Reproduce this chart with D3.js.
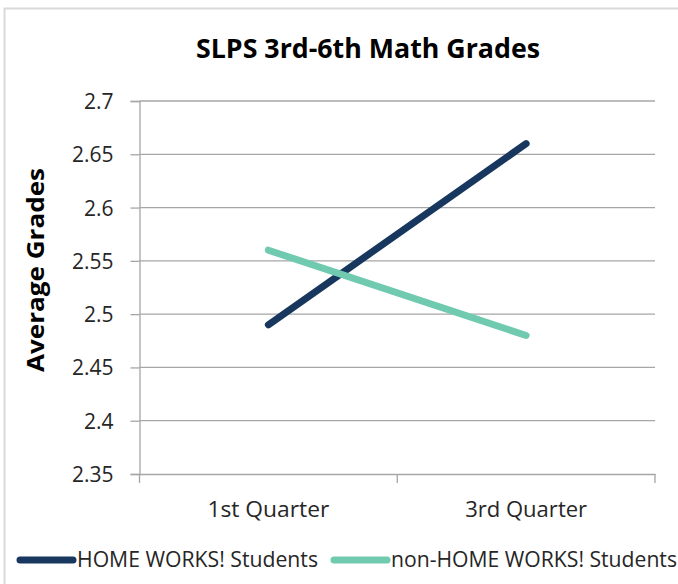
<!DOCTYPE html>
<html><head><meta charset="utf-8">
<script src="https://cdn.jsdelivr.net/npm/d3@7"></script>
<style>body{margin:0;background:#fff}svg{display:block}</style>
</head><body>
<svg id="chart" width="678" height="584"></svg>
<script>
const categories = ["1st Quarter", "3rd Quarter"];
const seriesNames = ["HOME WORKS! Students", "non-HOME WORKS! Students"];
const homeWorks = [2.49, 2.66];
const nonHomeWorks = [2.56, 2.48];
const yTicks = [2.35, 2.4, 2.45, 2.5, 2.55, 2.6, 2.65, 2.7];
const colors = ["#17375e", "#6fcab0"];
const title = "SLPS 3rd-6th Math Grades";
const yTitle = "Average Grades";

const font = "'Open Sans', 'Noto Sans', sans-serif";
const svg = d3.select("#chart");
const m = {left: 139.5, right: 655, top: 101, bottom: 474};

// outer border
svg.append("rect").attr("x", 4.5).attr("y", 8.5).attr("width", 690).attr("height", 600)
  .attr("fill", "none").attr("stroke", "#d9d9d9").attr("stroke-width", 2);

const x = d3.scaleBand().domain(categories).range([m.left, m.right]);
const y = d3.scaleLinear().domain([2.35, 2.7]).range([m.bottom, m.top]);

// gridlines
svg.append("g").selectAll("line").data(yTicks.slice(1)).join("line")
  .attr("x1", m.left).attr("x2", m.right)
  .attr("y1", d => y(d)).attr("y2", d => y(d))
  .attr("stroke", "#a6a6a6").attr("stroke-width", 1.3);

// y axis
const yAxis = svg.append("g").attr("transform", `translate(${m.left},0)`)
  .call(d3.axisLeft(y).tickValues(yTicks).tickFormat(d => String(+d.toFixed(2))).tickSize(9).tickPadding(17));
yAxis.select(".domain").attr("stroke", "#a6a6a6").attr("stroke-width", 1.3);
yAxis.selectAll(".tick line").attr("stroke", "#a6a6a6").attr("stroke-width", 1.3);
yAxis.selectAll("text").attr("font-family", font).attr("font-size", 21).attr("fill", "#262626")
  .attr("dy", "0.36em");

// x axis
const xAxis = svg.append("g").attr("transform", `translate(0,${m.bottom})`)
  .call(d3.axisBottom(x).tickSize(0).tickPadding(0));
xAxis.select(".domain").attr("stroke", "#a6a6a6").attr("stroke-width", 1.3);
xAxis.selectAll("text").attr("font-family", font).attr("font-size", 21).attr("fill", "#262626")
  .attr("y", 43).attr("dy", 0)
  .attr("textLength", 122).attr("lengthAdjust", "spacingAndGlyphs");
// category boundary ticks
const bounds = [m.left, m.left + x.step(), m.right];
svg.append("g").selectAll("line").data(bounds).join("line")
  .attr("x1", d => d).attr("x2", d => d).attr("y1", m.bottom).attr("y2", m.bottom + 9)
  .attr("stroke", "#a6a6a6").attr("stroke-width", 1.3);

// lines
const line = d3.line().x((d, i) => x(categories[i]) + x.bandwidth() / 2).y(d => y(d));
[homeWorks, nonHomeWorks].forEach((s, i) => {
  svg.append("path").datum(s).attr("d", line).attr("fill", "none")
    .attr("stroke", colors[i]).attr("stroke-width", 7).attr("stroke-linecap", "round");
});

// title
svg.append("text").attr("x", 196).attr("y", 58).attr("text-anchor", "start")
  .attr("font-family", font).attr("font-weight", "bold").attr("font-size", 26).attr("fill", "#000")
  .attr("textLength", 344).attr("lengthAdjust", "spacingAndGlyphs")
  .text(title);

// y title
svg.append("text").attr("transform", "translate(44,270) rotate(-90)").attr("text-anchor", "middle")
  .attr("font-family", font).attr("font-weight", "bold").attr("font-size", 24).attr("fill", "#000")
  .attr("textLength", 204).attr("lengthAdjust", "spacingAndGlyphs")
  .text(yTitle);

// legend
const legendX = [17, 331];
const legendTextW = [241, 286];
seriesNames.forEach((n, i) => {
  const g = svg.append("g");
  g.append("line").attr("x1", legendX[i] + 3).attr("x2", legendX[i] + 56).attr("y1", 560).attr("y2", 560)
    .attr("stroke", colors[i]).attr("stroke-width", 7).attr("stroke-linecap", "round");
  g.append("text").attr("x", legendX[i] + 60).attr("y", 567)
    .attr("font-family", font).attr("font-size", 21).attr("fill", "#262626")
    .attr("textLength", legendTextW[i]).attr("lengthAdjust", "spacingAndGlyphs")
    .text(n);
});
</script>
</body></html>
